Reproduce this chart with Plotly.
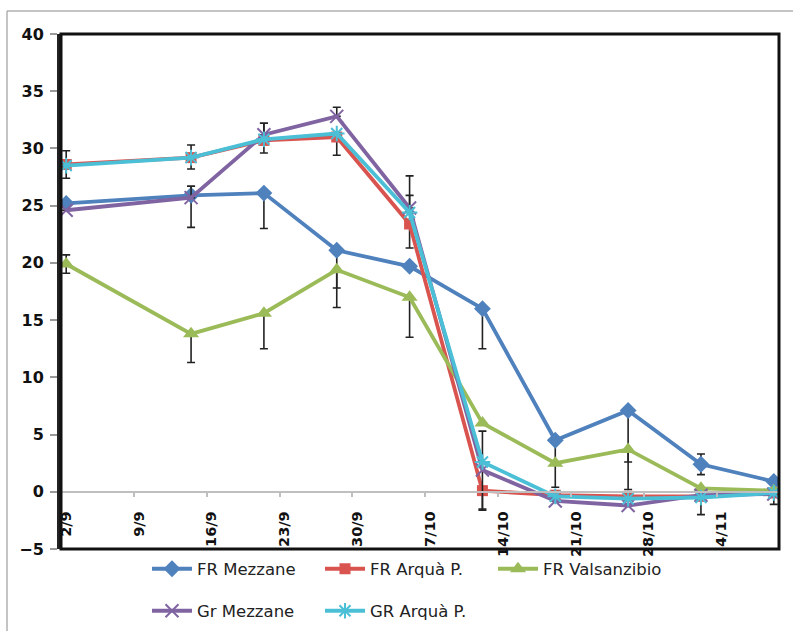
import pandas as pd
import plotly.graph_objects as go

# Sampling dates (day/month)
dates = ["2013-09-02", "2013-09-14", "2013-09-21", "2013-09-28", "2013-10-05",
         "2013-10-12", "2013-10-19", "2013-10-26", "2013-11-02", "2013-11-09"]

fr_mezzane = [25.2, 25.9, 26.1, 21.1, 19.7, 16.0, 4.5, 7.1, 2.4, 0.9]
fr_mezzane_up = [0, 0.8, 0, 0, 0, 0, 0, 0, 0.9, 0]
fr_mezzane_dn = [0, 2.8, 3.1, 3.3, 0, 3.5, 4.1, 6.9, 0.9, 0]

fr_arqua = [28.6, 29.2, 30.7, 31.0, 23.4, 0.1, -0.3, -0.4, -0.4, -0.1]
fr_arqua_up = [1.2, 1.1, 1.5, 0, 0, 0, 0, 0, 0, 0]
fr_arqua_dn = [1.2, 1.0, 1.1, 1.6, 2.1, 1.7, 0, 0, 1.6, 1.0]

fr_valsanzibio = [19.9, 13.8, 15.6, 19.4, 17.0, 6.0, 2.5, 3.7, 0.3, 0.1]
fr_valsanzibio_up = [0.8, 0, 0, 0, 0, 0, 0, 0, 0, 0]
fr_valsanzibio_dn = [0.8, 2.5, 3.1, 3.3, 3.5, 0, 0, 1.1, 0, 0]

gr_mezzane = [24.6, 25.7, 31.2, 32.8, 24.8, 1.9, -0.8, -1.2, -0.3, -0.2]
gr_mezzane_up = [0, 1.0, 1.0, 0.8, 1.1, 3.4, 0, 0, 0, 0]
gr_mezzane_dn = [0, 0, 0, 0, 0, 3.4, 0, 0, 0, 0]

gr_arqua = [28.5, 29.2, 30.8, 31.3, 24.4, 2.6, -0.4, -0.6, -0.5, -0.1]
gr_arqua_up = [0, 0, 0, 0, 3.2, 0, 0, 0, 0, 0]
gr_arqua_dn = [0, 0, 0, 0, 0, 0, 0, 0, 0, 0]

y_ticks = [-5, 0, 5, 10, 15, 20, 25, 30, 35, 40]
x_ticks = ["2013-09-02", "2013-09-09", "2013-09-16", "2013-09-23", "2013-09-30",
           "2013-10-07", "2013-10-14", "2013-10-21", "2013-10-28", "2013-11-04"]
x_tick_labels = ["2/9", "9/9", "16/9", "23/9", "30/9", "7/10", "14/10", "21/10", "28/10", "4/11"]

# points sit in the middle of their day
x_pts = pd.to_datetime(dates) + pd.Timedelta(hours=12)

series = [
    ("FR Mezzane", fr_mezzane, fr_mezzane_up, fr_mezzane_dn, "#4F81BD",
     dict(symbol="diamond", size=13), "legend"),
    ("FR Arquà P.", fr_arqua, fr_arqua_up, fr_arqua_dn, "#D9534F",
     dict(symbol="square", size=11), "legend"),
    ("FR Valsanzibio", fr_valsanzibio, fr_valsanzibio_up, fr_valsanzibio_dn, "#9BBB59",
     dict(symbol="triangle-up", size=14), "legend"),
    ("Gr Mezzane", gr_mezzane, gr_mezzane_up, gr_mezzane_dn, "#8064A2",
     dict(symbol="x-thin", size=13, line=dict(width=2, color="#8064A2")), "legend2"),
    ("GR Arquà P.", gr_arqua, gr_arqua_up, gr_arqua_dn, "#4BBFD6",
     dict(symbol="asterisk", size=13, line=dict(width=2, color="#4BBFD6")), "legend2"),
]

fig = go.Figure()
for name, vals, up, dn, color, marker, leg in series:
    fig.add_trace(go.Scatter(
        x=x_pts, y=vals, name=name, mode="lines+markers",
        line=dict(color=color, width=3.8),
        marker=dict(color=color, **marker),
        error_y=dict(type="data", symmetric=False, array=up, arrayminus=dn,
                     color="#222222", thickness=1.6, width=4),
        legend=leg,
    ))

W, H = 793, 631
L, R, T, B = 61, 14, 34, 82
pw, ph = W - L - R, H - T - B


def px_x(p):
    return (p - L) / pw


def px_y(p):
    return (H - B - p) / ph


def cont_y(p):
    return (H - p) / H


legend_common = dict(
    orientation="h", xanchor="left", yanchor="middle", yref="container",
    font=dict(family="DejaVu Sans", size=16.5, color="#222222"),
    entrywidth=118, entrywidthmode="pixels", bgcolor="rgba(0,0,0,0)",
    itemwidth=40, tracegroupgap=0,
)

fig.update_layout(
    width=W, height=H,
    margin=dict(l=L, r=R, t=T, b=B),
    paper_bgcolor="white", plot_bgcolor="white",
    showlegend=True,
    legend=dict(x=px_x(147), y=cont_y(569), **legend_common),
    legend2=dict(x=px_x(147), y=cont_y(611), **legend_common),
    xaxis=dict(
        type="date", range=["2013-09-02", "2013-11-10"],
        tickvals=x_ticks, ticktext=x_tick_labels, tickangle=-90,
        tickfont=dict(family="DejaVu Sans", size=14.5, color="#111111", weight="bold"),
        ticks="outside", ticklen=4, tickcolor="#BFBFBF", tickwidth=1.5,
        ticklabelstandoff=9, ticklabelshift=5,
        showline=True, linecolor="#BFBFBF", linewidth=1.5,
        showgrid=False, zeroline=False, automargin=False,
        anchor="free", position=5 / 45,
    ),
    yaxis=dict(
        range=[-5, 40], tickvals=y_ticks,
        tickfont=dict(family="DejaVu Sans", size=16, color="#111111", weight="bold"),
        ticks="outside", ticklen=7, tickcolor="#9a9a9a", tickwidth=1.5,
        ticklabelstandoff=3, automargin=False,
        showline=True, linecolor="#222222", linewidth=4,
        showgrid=False, zeroline=False,
    ),
    shapes=[
        # plot area frame
        dict(type="rect", xref="paper", yref="paper", x0=0, x1=1, y0=0, y1=1,
             line=dict(color="#111111", width=3), layer="above"),
        # outer chart border (left and top edges)
        dict(type="line", xref="paper", yref="paper",
             x0=px_x(7), x1=px_x(7), y0=px_y(631), y1=px_y(11),
             line=dict(color="#B0B0B0", width=1.5)),
        dict(type="line", xref="paper", yref="paper",
             x0=px_x(7), x1=px_x(793), y0=px_y(11), y1=px_y(11),
             line=dict(color="#B0B0B0", width=1.5)),
    ],
)

fig.write_html("out.html")
